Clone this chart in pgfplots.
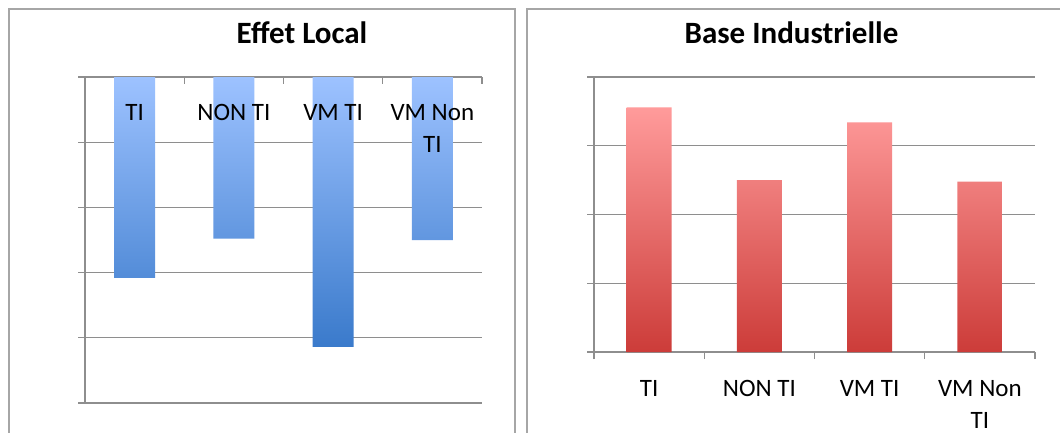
\documentclass[border=0pt]{standalone}
\usepackage{fontspec}
\setmainfont{Carlito}
\usepackage{pgfplots}
\pgfplotsset{compat=1.18}
\definecolor{gridgray}{HTML}{8E8E8E}
\definecolor{framegray}{HTML}{A6A6A6}
\definecolor{bluetop}{HTML}{9DC2FF}
\definecolor{bluebot}{HTML}{3A7ACB}
\definecolor{redtop}{HTML}{FF9B9B}
\definecolor{redbot}{HTML}{CC3C39}
\pgfplotsset{
  common/.style={
    scale only axis,
    anchor=south west,
    xmin=0.5, xmax=4.5,
    /pgf/number format/assume math mode=true,
    axis line style={gridgray, line width=1.3pt},
    ymajorgrids,
    grid style={gridgray, line width=1.3pt},
    tick style={gridgray, line width=1.3pt},
    major tick length=7pt,
    xtick={0.5,1.5,2.5,3.5,4.5},
    xticklabels={},
    yticklabels={},
    x tick label style={font=\fontsize{25}{33}\selectfont, align=center, anchor=north},
  }
}
\begin{document}
\begin{tikzpicture}[x=1pt,y=1pt]
\useasboundingbox (0,0) rectangle (1060,432);
\clip (0,0) rectangle (1060,432);
\fill[white] (0,0) rectangle (1060,432);
\draw[framegray, line width=1.6pt] (9,-5) -- (9,423) -- (515,423) -- (515,-5);
\draw[framegray, line width=1.6pt] (527,-5) -- (527,423) -- (1070,423);
\node[anchor=base, font=\fontsize{31}{31}\selectfont\bfseries] at (302,388) {Effet Local};
\node[anchor=base, font=\fontsize{31}{31}\selectfont\bfseries] at (791.5,388) {Base Industrielle};

\begin{axis}[common,
  at={(85pt,29pt)}, width=397pt, height=326pt,
  ymin=-2.5, ymax=0,
  axis x line*=top, axis y line*=left,
  tick align=inside,
  y tick style={xshift=-7pt},
  ytick={0,-0.5,-1,-1.5,-2,-2.5},
]
\addplot[ybar, bar width=41pt, draw=none, top color=bluetop, middle color=bluetop!58!bluebot, bottom color=bluebot]
  coordinates {(1,-1.54) (2,-1.24) (3,-2.07) (4,-1.25)};
\begin{scope}[every node/.style={font=\fontsize{25}{32}\selectfont, align=center, anchor=north, yshift=-24pt}]
\node at (axis cs:1,0) {TI};
\node at (axis cs:2,0) {NON TI};
\node at (axis cs:3,0) {VM TI};
\node at (axis cs:4,0) {VM Non\\TI};
\end{scope}
\begin{scope}[every node/.style={font=\fontsize{23}{23}\selectfont, anchor=east, xshift=-20pt, inner sep=0pt}]
\node at (axis cs:0.5,0) {0\%};
\node at (axis cs:0.5,-0.5) {-1\%};
\node at (axis cs:0.5,-1) {-1\%};
\node at (axis cs:0.5,-1.5) {-2\%};
\node at (axis cs:0.5,-2) {-2\%};
\node at (axis cs:0.5,-2.5) {-3\%};
\end{scope}
\end{axis}

\begin{axis}[common,
  at={(594pt,80pt)}, width=441pt, height=275pt,
  ymin=0, ymax=20,
  axis x line*=bottom, axis y line*=left,
  tick align=outside,
  ytick={0,5,10,15,20},
  extra x ticks={1,2,3,4},
  extra x tick labels={TI,NON TI,VM TI,{VM Non\\TI}},
  extra x tick style={major tick length=0pt, grid=none},
  x tick label style={yshift=-25pt, font=\fontsize{25}{32}\selectfont},
]
\addplot[ybar, bar width=45pt, draw=none, top color=redtop, middle color=redtop!55!redbot, bottom color=redbot]
  coordinates {(1,17.8) (2,12.5) (3,16.7) (4,12.4)};
\begin{scope}[every node/.style={font=\fontsize{23}{23}\selectfont, anchor=east, xshift=-21pt, inner sep=0pt}]
\node at (axis cs:0.5,0) {0\%};
\node at (axis cs:0.5,5) {5\%};
\node at (axis cs:0.5,10) {10\%};
\node at (axis cs:0.5,15) {15\%};
\node at (axis cs:0.5,20) {20\%};
\end{scope}
\end{axis}
\end{tikzpicture}
\end{document}
